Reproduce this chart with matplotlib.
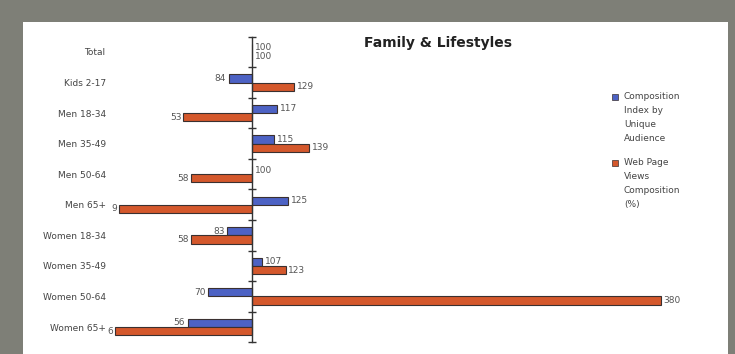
import numpy as np
import matplotlib
matplotlib.use('Agg')
import matplotlib.pyplot as plt
from matplotlib.patches import Rectangle

# data
categories = ['Total', 'Kids 2-17', 'Men 18-34', 'Men 35-49', 'Men 50-64', 'Men 65+',
              'Women 18-34', 'Women 35-49', 'Women 50-64', 'Women 65+']
composition_index = [100, 84, 117, 115, 100, 125, 83, 107, 70, 56]
page_views_index = [100, 129, 53, 139, 58, 9, 58, 123, 380, 6]
series_names = ['Composition\nIndex by\nUnique\nAudience', 'Web Page\nViews\nComposition\n(%)']

W, H = 735, 354
fig = plt.figure(figsize=(W / 100, H / 100), dpi=100)
fig.patch.set_facecolor('#7e7f77')

# white panel inside the grey frame
bg = fig.add_axes([23 / W, 0, (728 - 23) / W, (H - 22) / H])
bg.set_facecolor('white')
bg.set_xticks([])
bg.set_yticks([])
for s in bg.spines.values():
    s.set_visible(False)

# main chart
x0, x1 = 114, 700
y_top, y_bot = 36.7, 342.3
ax = fig.add_axes([x0 / W, (H - y_bot) / H, (x1 - x0) / W, (y_bot - y_top) / H])
ax.patch.set_alpha(0)
scale = 1.46  # px per unit
ax.set_xlim(100 - (252 - x0) / scale, 100 + (x1 - 252) / scale)
ax.set_ylim(len(categories) - 0.5, -0.5)

blue = '#4d62c4'
orange = '#d4582c'
edge = '#3a3030'
y = np.arange(len(categories))
off, bh = 0.135, 0.27
comp = np.array(composition_index)
pv = np.array(page_views_index)
ax.barh(y - off, comp - 100, left=100, height=bh, color=blue, edgecolor=edge, linewidth=0.8)
ax.barh(y + off, pv - 100, left=100, height=bh, color=orange, edgecolor=edge, linewidth=0.8)

# value labels
for yi, v in zip(y - off, comp):
    ha = 'right' if v < 100 else 'left'
    dx = -2 if v < 100 else 2
    ax.annotate(str(v), (v, yi), xytext=(dx, 0), textcoords='offset points',
                ha=ha, va='center', fontsize=6.5, color='#555555', annotation_clip=False)
for yi, v in zip(y + off, pv):
    ha = 'right' if v < 100 else 'left'
    dx = -1.5 if v < 100 else 2
    ax.annotate(str(v), (v, yi), xytext=(dx, 0), textcoords='offset points',
                ha=ha, va='center', fontsize=6.5, color='#555555', annotation_clip=False)

# central axis with tick marks at category boundaries
ax.plot([100, 100], [-0.5, len(categories) - 0.5], color='#333333', lw=1.0, clip_on=False)
ax.plot(np.full(len(categories) + 1, 100), np.arange(len(categories) + 1) - 0.5,
        ls='none', marker='_', ms=6, mew=1.0, color='#333333', clip_on=False)

ax.set_yticks(y)
ax.set_yticklabels(categories, fontsize=6.5, color='#444444')
ax.tick_params(axis='y', length=0, pad=6)
ax.set_xticks([])
for s in ax.spines.values():
    s.set_visible(False)

fig.text(438 / W, 1 - 43 / H, 'Family & Lifestyles', ha='center', va='center',
         fontsize=10, fontweight='bold', color='#222222')

# legend drawn by hand so the swatch sits on the first text line
for name, col, ytop in zip(series_names, [blue, orange], [97, 163]):
    fig.patches.append(Rectangle((612 / W, 1 - (ytop + 3) / H), 6 / W, 6 / H,
                                 transform=fig.transFigure, facecolor=col,
                                 edgecolor=edge, lw=0.5))
    fig.text(624 / W, 1 - (ytop - 5) / H, name, ha='left', va='top', fontsize=6.5,
             color='#444444', linespacing=1.72)

fig.savefig('out.png', dpi=100, facecolor=fig.get_facecolor())
